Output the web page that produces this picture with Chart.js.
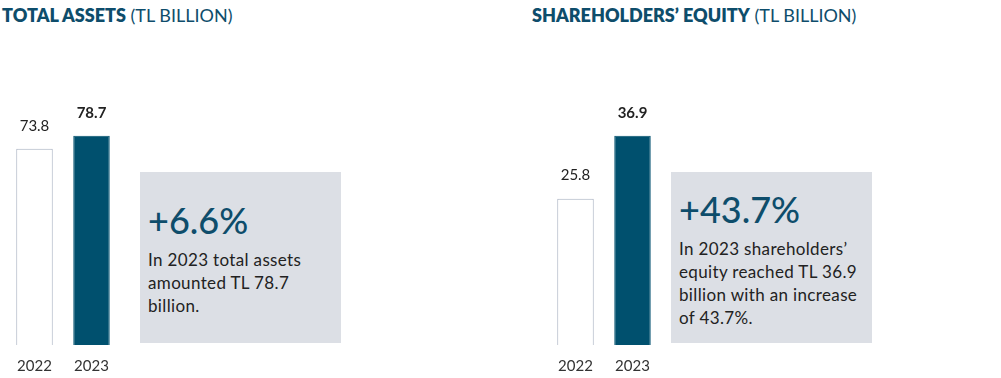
<!DOCTYPE html>
<html>
<head>
<meta charset="utf-8">
<script src="https://cdn.jsdelivr.net/npm/chart.js@4.4.1/dist/chart.umd.min.js"></script>
<style>
  body { margin: 0; background: #fff; font-family: Lato, "Open Sans", sans-serif; }
  .wrap { position: relative; width: 1001px; height: 378px; overflow: hidden; }
  .title { position: absolute; top: 4px; font-size: 18px; color: #0e4d6b; white-space: nowrap; }
  .title b { font-weight: 800; }
  .chart { position: absolute; top: 0; }
  .box { position: absolute; top: 172px; width: 201px; height: 171px; background: #dcdfe5;
         box-sizing: border-box; padding: 2px 8px 0; display: flex; flex-direction: column; justify-content: center; }
  .big { font-size: 36px; color: #0e4d6b; font-weight: 500; line-height: 40px; margin-bottom: 8px; }
  .txt { font-size: 17px; color: #222; line-height: 23px; letter-spacing: 0.35px; }
</style>
</head>
<body>
<div class="wrap">
  <div class="title" style="left:2px"><b>TOTAL ASSETS</b> (TL BILLION)</div>
  <div class="title" style="left:532px"><b>SHAREHOLDERS’ EQUITY</b> (TL BILLION)</div>

  <canvas class="chart" id="assets" width="130" height="391" style="left:0"></canvas>
  <canvas class="chart" id="equity" width="130" height="391" style="left:540px"></canvas>

  <div class="box" style="left:140px">
    <div class="big">+6.6%</div>
    <div class="txt">In 2023 total assets<br>amounted TL 78.7<br>billion.</div>
  </div>
  <div class="box" style="left:671px">
    <div class="big">+43.7%</div>
    <div class="txt">In 2023 shareholders’<br>equity reached TL 36.9<br>billion with an increase<br>of 43.7%.</div>
  </div>
</div>

<script>
// donnees
const years = ['2022', '2023'];
const totalAssets = [73.8, 78.7];
const equity = [25.8, 36.9];

const teal = '#00506e';

// etiquettes de valeur au dessus des barres
const valueLabels = {
    id: 'valueLabels',
    afterDatasetsDraw(chart) {
        const ctx = chart.ctx;
        const meta = chart.getDatasetMeta(0);
        ctx.save();
        ctx.textAlign = 'center';
        ctx.textBaseline = 'middle';
        ctx.fillStyle = '#222';
        meta.data.forEach((bar, i) => {
            ctx.font = (i === 1 ? '700 ' : '400 ') + '15px Lato, "Open Sans", sans-serif';
            ctx.fillText(chart.data.datasets[0].data[i].toFixed(1), bar.x, bar.y - 23);
        });
        ctx.restore();
    }
};

function makeChart(id, values, left) {
    new Chart(document.getElementById(id), {
        type: 'bar',
        data: {
            labels: years,
            datasets: [{
                data: values,
                backgroundColor: ['#ffffff', teal],
                borderColor: ['#a7b0c0', teal],
                borderWidth: 1,
                categoryPercentage: 1,
                barPercentage: 0.64
            }]
        },
        options: {
            responsive: false,
            animation: false,
            layout: { padding: { left: left, right: 130 - left - 114, top: 79, bottom: 4 } },
            plugins: { legend: { display: false }, tooltip: { enabled: false } },
            scales: {
                x: {
                    grid: { display: false, drawTicks: false },
                    border: { display: false },
                    ticks: { color: '#333', padding: 12, font: { size: 15, family: 'Lato' } }
                },
                y: {
                    display: false,
                    min: 0,
                    max: Math.max(...values) / 0.787
                }
            }
        },
        plugins: [valueLabels]
    });
}

makeChart('assets', totalAssets, 6);
makeChart('equity', equity, 7);
</script>
</body>
</html>
